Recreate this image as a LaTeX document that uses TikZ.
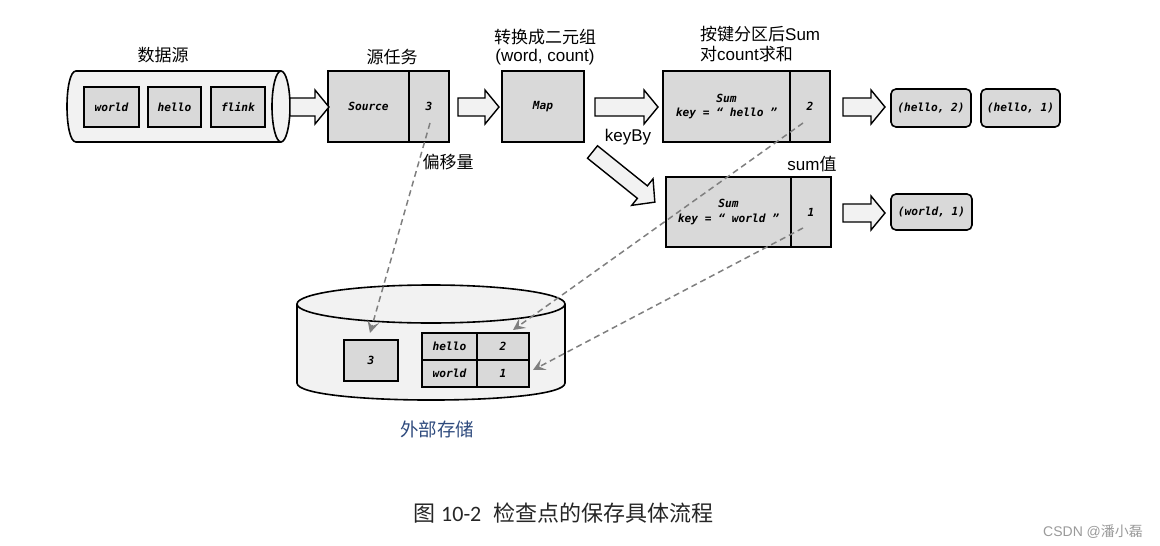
\documentclass[tikz,border=0pt]{standalone}
\usepackage{fontspec}
\setmainfont{Liberation Sans}
\newfontfamily\cjk{Noto Sans CJK SC}
\newfontfamily\monofnt{DejaVu Sans Mono}
\newfontfamily\capfont{Carlito}
\usetikzlibrary{arrows.meta}
\definecolor{boxgray}{HTML}{D9D9D9}
\definecolor{lightfill}{HTML}{F2F2F2}
\definecolor{dashgray}{HTML}{7F7F7F}
\definecolor{storeblue}{HTML}{2E4A7D}
\definecolor{wmgray}{HTML}{9A9A9A}
\tikzset{
  cell/.style={draw=black, line width=1.6pt, fill=boxgray, inner sep=0pt,
    font=\monofnt\bfseries\itshape\fontsize{11.2}{14.5}\selectfont, align=center},
  pill/.style={cell, rounded corners=5pt},
  lbl/.style={inner sep=0pt, font=\fontsize{17}{20}\selectfont},
  cylbody/.style={fill=lightfill},
  cylline/.style={draw=black, line width=1.6pt},
  fatshape/.style={draw=black, line width=1.4pt, fill=lightfill, line join=miter},
  ckline/.style={draw=dashgray, line width=1.5pt, dash pattern=on 6pt off 4pt,
    -{Stealth[length=12pt, width=12pt, inset=5pt]}},
  pics/fatarrow/.style={code={
    \filldraw[fatshape] (0,-9) -- ({#1-14},-9) -- ({#1-14},-17) -- (#1,0)
      -- ({#1-14},17) -- ({#1-14},9) -- (0,9) -- cycle;}},
  pics/slimarrow/.style={code={
    \filldraw[fatshape] (0,-8) -- ({#1-16},-8) -- ({#1-16},-17) -- (#1,0)
      -- ({#1-16},17) -- ({#1-16},8) -- (0,8) -- cycle;}}
}
\begin{document}
\begin{tikzpicture}[x=1pt,y=-1pt]
\useasboundingbox (0,0) rectangle (1160,546);

% ---------- data source (horizontal cylinder) ----------
\fill[cylbody] (281,71) -- (76,71) .. controls (64,71) and (64,142) .. (76,142) -- (281,142) -- cycle;
\draw[cylline] (281,71) -- (76,71) .. controls (64,71) and (64,142) .. (76,142) -- (281,142);
\filldraw[cylbody, cylline] (281,106.5) ellipse [x radius=9pt, y radius=35.5pt];
\node[cell, minimum width=55pt, minimum height=40pt] (qworld) at (111.5,107) {world};
\node[cell, minimum width=53pt, minimum height=40pt] (qhello) at (174.5,107) {hello};
\node[cell, minimum width=54pt, minimum height=40pt] (qflink) at (238,107) {flink};
\node[lbl] (lsrc) at (163,55) {\cjk 数据源};

% ---------- source task ----------
\node[cell, minimum width=81pt, minimum height=71pt] (src) at (368.5,106.5) {Source};
\node[cell, minimum width=40pt, minimum height=71pt] (srcv) at (429,106.5) {3};
\node[lbl] (ltask) at (392,57) {\cjk 源任务};
\node[lbl] (loff) at (448,162) {\cjk 偏移量};

% ---------- map ----------
\node[cell, minimum width=82pt, minimum height=71pt] (map) at (543,106.5) {Map};
\node[lbl] (lmap1) at (545,37) {\cjk 转换成二元组};
\node[lbl] (lmap2) at (545,57) {(word, count)};

% ---------- sum hello ----------
\node[cell, minimum width=127pt, minimum height=71pt] (sumh) at (726.5,106.5) {Sum\\key = “ hello ”};
\node[cell, minimum width=40pt, minimum height=71pt] (sumhv) at (810,106.5) {2};
\node[lbl, anchor=west] (lsum1) at (700,34) {{\cjk 按键分区后}Sum};
\node[lbl, anchor=west] (lsum2) at (700,54) {{\cjk 对}count{\cjk 求和}};

% ---------- sum world ----------
\node[cell, minimum width=125pt, minimum height=70pt] (sumw) at (728.5,212) {Sum\\key = “ world ”};
\node[cell, minimum width=40pt, minimum height=70pt] (sumwv) at (811,212) {1};
\node[lbl] (lkey) at (628,137) {keyBy};
\node[lbl] (lsumv) at (812,164) {sum{\cjk 值}};

% ---------- outputs ----------
\node[pill, minimum width=80pt, minimum height=38pt] (oh2) at (931,108) {(hello, 2)};
\node[pill, minimum width=79pt, minimum height=38pt] (oh1) at (1020.5,108) {(hello, 1)};
\node[pill, minimum width=81pt, minimum height=36pt] (ow1) at (931.5,212) {(world, 1)};

% ---------- fat arrows ----------
\pic at (290,107) {fatarrow=39};
\pic at (458,107) {fatarrow=41};
\pic at (595,107) {fatarrow=63};
\pic at (843,107) {fatarrow=42};
\pic at (843,213) {fatarrow=42};
\pic[rotate=-38.8] at (592.5,152) {slimarrow=80};

% ---------- external storage (database cylinder) ----------
\fill[cylbody] (297,304) -- (297,383) .. controls (297,405.7) and (565,405.7) .. (565,383) -- (565,304) -- cycle;
\draw[cylline] (297,304) -- (297,383) .. controls (297,405.7) and (565,405.7) .. (565,383) -- (565,304);
\filldraw[cylbody, cylline] (431,304) ellipse [x radius=134pt, y radius=19pt];
\node[cell, minimum width=54pt, minimum height=41pt] (st3) at (371,360.5) {3};
\node[cell, minimum width=55pt, minimum height=27pt] (tk1) at (449.5,346.5) {hello};
\node[cell, minimum width=52pt, minimum height=27pt] (tv1) at (503,346.5) {2};
\node[cell, minimum width=55pt, minimum height=27pt] (tk2) at (449.5,373.5) {world};
\node[cell, minimum width=52pt, minimum height=27pt] (tv2) at (503,373.5) {1};
\node[inner sep=0pt, text=storeblue, font=\cjk\fontsize{18.5}{21}\selectfont] (lstore) at (437,429) {外部存储};

% ---------- checkpoint dashed lines ----------
\coordinate (d1s) at (430,123);
\coordinate (d1e) at (370,333);
\coordinate (d2s) at (803,123);
\coordinate (d2e) at (513,330);
\coordinate (d3s) at (803,228);
\coordinate (d3e) at (533,370);
\draw[ckline] (d1s) -- (d1e);
\draw[ckline] (d2s) -- (d2e);
\draw[ckline] (d3s) -- (d3e);

% ---------- caption and watermark ----------
\node[inner sep=0pt, anchor=west, text=black!85] (cap) at (413,513)
  {\fontsize{22}{26}\selectfont{\cjk 图}\hspace{6pt}{\capfont\fontsize{22}{26}\selectfont 10-2}\hspace{12pt}{\cjk 检查点的保存具体流程}};
\node[inner sep=0pt, anchor=west, text=wmgray, font=\fontsize{14}{16}\selectfont] (wm) at (1043,532) {CSDN @{\cjk 潘小磊}};
\end{tikzpicture}
\end{document}
